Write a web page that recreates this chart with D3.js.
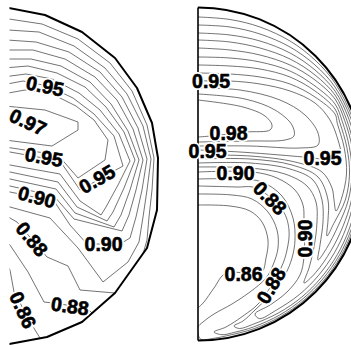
<!DOCTYPE html>
<html>
<head>
<meta charset="utf-8">
<script src="https://cdn.jsdelivr.net/npm/d3@7"></script>
<style>
  body { margin: 0; background: #fff; }
  svg { display: block; }
</style>
</head>
<body>
<svg width="351" height="345"></svg>
<script>
// ---- left section: coarse mesh, units of its radius, origin at centre, y down
const leftRadius = 169
const leftOutline = [[12,-169],[53,-161],[90,-144],[123,-118],[145,-88],[160,-53],[166,-18],[165,34],[155,72],[123,117],[90,146],[55,161],[12,169]]

const left097 = [[13,-70],[53,-66],[86,-54],[86,-46],[60,-30],[13,-36]]
const left096 = [[11,-82],[33,-86],[58,-83],[84,-70],[102,-56],[116,-36],[113,-16],[86,2],[66,-21],[13,-29]]
const left095 = [[10,-91],[31,-95],[56,-90],[81,-78],[102,-62],[122,-40],[131,-10],[88,14],[68,-15],[18,-24],[13,-25]]
const left094 = [[11,-99],[34,-102],[60,-97],[87,-83],[108,-66],[127,-42],[138,-15],[126,9],[114,31],[109,39],[88,25],[68,-2],[18,-11],[13,-12]]
const left093 = [[12,-108],[36,-110],[65,-103],[93,-89],[114,-69],[132,-44],[143,-16],[132,12],[121,36],[115,45],[85,31],[66,6],[18,-4],[13,-5]]
const left092 = [[13,-117],[39,-117],[69,-110],[98,-94],[119,-72],[136,-45],[147,-16],[138,14],[129,39],[122,51],[83,37],[64,13],[18,3],[13,2]]
const left091 = [[14,-126],[41,-126],[73,-117],[103,-99],[125,-76],[141,-47],[151,-16],[144,14],[137,39],[130,55],[82,43],[62,20],[18,10],[13,9]]
const left090 = [[15,-136],[44,-134],[77,-124],[108,-104],[130,-79],[146,-48],[155,-17],[150,14],[144,41],[138,62],[128,68],[95,68],[78,49],[62,25],[18,16],[13,15]]
const left089 = [[16,-146],[47,-144],[82,-130],[113,-108],[135,-82],[151,-50],[159,-17],[155,14],[151,41],[147,66],[136,86],[111,106],[86,72],[58,42],[18,31],[13,30]]
const left088a = [[17,-157],[50,-152],[86,-137],[118,-113],[140,-85],[155,-51],[162,-18],[160,14],[157,41],[155,64],[151,78]]
const left088b = [[13,38],[18,42],[25,46],[55,81],[76,90],[88,114],[123,117]]
const left087 = [[13,64],[18,69],[36,96],[52,126],[61,127],[95,132],[100,137]]
const left086 = [[13,86],[18,94],[22,116],[43,154],[48,162]]

// label text, x, y, rotation
const leftLabels = [
  ['0.95', 53, -90, 12], ['0.97', 36, -54, 25], ['0.95', 52, -19, 10],
  ['0.95', 105, 3, -30], ['0.90', 45, 21, 15], ['0.88', 40, 63, 50],
  ['0.90', 111.5, 68, 0], ['0.86', 31, 134, 65], ['0.88', 78, 130, 8]
]

// ---- right section: fine mesh, same kind of units
const rightRadius = 166.5
const right098 = [[0,-74],[45,-67],[67,-58],[74,-49],[72,-44],[48,-42],[13,-38],[0,-37]]
const right097 = [[0,-80],[47,-75],[77,-64],[94,-49],[96,-38],[87,-34],[52,-33],[0,-32]]
const right096 = [[0,-86],[42,-84],[82,-74],[107,-59],[120,-41],[120,-29],[102,-26],[52,-28],[0,-28]]
const right095 = [[0,-93],[32,-93],[62,-90],[92,-83],[117,-71],[132,-54],[140,-34],[143,-20],[141,-15],[106,-17],[82,-19],[42,-22],[0,-24]]
const right094 = [[0,-101],[32,-100],[62,-97],[92,-90],[117,-77],[137,-60],[139.3,-50.7],[146.3,-25.8],[148.5,0],[143.3,25.3],[138,37],[136,26],[134,14],[124,-2],[97,-12],[52,-18],[0,-19]]
const right093 = [[0,-109],[32,-108],[62,-105],[92,-97],[117,-83],[137,-65],[141.8,-51.6],[148.9,-26.3],[151.5,0],[147.3,26],[135.8,49.4],[129,62],[130,46],[130,26],[120,3],[94,-9],[52,-15],[0,-15]]
const right092 = [[0,-117],[32,-116],[62,-112],[92,-103],[117,-88],[137,-70],[144.3,-52.5],[151.4,-26.7],[154,0],[150.2,26.5],[140.5,51.1],[128.6,74.3],[120,86],[122,71],[125,48],[124,26],[115,6],[92,-5],[52,-11],[0,-11]]
const right091 = [[0,-126],[32,-124],[62,-119],[92,-109],[117,-94],[137,-75],[146.7,-53.4],[154,-27.2],[156.5,0],[153.2,27.1],[144.8,52.7],[132.9,76.8],[117.6,98.7],[106,109],[111,94],[116,73],[119,48],[118,28],[109,12],[87,0],[52,-6],[0,-7]]
const right090 = [[0,-134],[32,-132],[62,-126],[92,-115],[117,-99],[137,-79],[148.7,-54.1],[155.9,-27.5],[158.5,0],[155.6,27.5],[148.1,53.9],[136.4,78.8],[120.6,101.3],[101.3,120.6],[78.5,136],[61.4,144.6],[57,140],[72,131],[89,118],[102,101],[106,83],[106,46],[105,31],[97,16],[79,4],[55,-2],[0,-2]]
const right089 = [[0,-141],[32,-139],[62,-133],[92,-121],[117,-104],[137,-83],[150.9,-54.9],[158.1,-27.9],[160.5,0],[158.3,28],[151.2,55],[139.4,80.5],[123.3,103.5],[103.5,123.3],[80.3,139],[54.7,150.4],[41.4,154.5],[36,152],[45,147],[57,136],[74,119],[87,101],[94,84],[97,66],[95,44],[84,22],[64,8],[42,5],[0,5]]
const right088 = [[0,-149],[32,-147],[62,-140],[92,-127],[117,-109],[137,-87],[152.8,-55.6],[160.1,-28.3],[162.5,0],[160.3,28.3],[153.1,55.7],[141.2,81.5],[124.9,104.8],[104.8,124.9],[81.5,141.1],[55.6,152.9],[36.6,158.3],[24,160.7],[16,158],[28,153],[45,142],[61,129],[83,94],[89,76],[91,56],[85,37],[58,14],[38,13],[0,12]]
const right087 = [[0,-157],[32,-154.5],[62,-147],[92,-133],[117,-114],[137,-91],[154.4,-56.2],[161.7,-28.6],[164,0],[161.7,28.6],[154.6,56.3],[142.6,82.4],[126.2,105.9],[105.9,126.2],[82.4,142.6],[56.3,154.6],[28.6,161.8],[14,164.6],[3,165.5],[0,160],[0,153],[5,148],[16,140],[34,130],[52,118],[68,104],[75,91],[80,74],[79,56],[70,38],[54,25],[34,21],[0,20]]
const right086 = [[0,31],[32,32],[52,37],[64,48],[70,66],[68,84],[63,99],[28,99],[16,114],[6,128],[0,134]]

const rightLabels = [
  ['0.95', 13, -93, 0], ['0.98', 30.5, -41.5, 0], ['0.95', 9.5, -23.5, 0],
  ['0.95', 124.5, -16.5, 0], ['0.90', 37.5, -1.5, 0], ['0.88', 72, 24, 45],
  ['0.90', 106.5, 64.5, -90], ['0.86', 45.5, 99.5, 0], ['0.88', 73, 111.5, -60]
]

const leftContours = [left086, left087, left088a, left088b, left089, left090, left091, left092, left093, left094, left095, left096, left097]
const rightContours = [right086, right087, right088, right089, right090, right091, right092, right093, right094, right095, right096, right097, right098]

const svg = d3.select('svg')
const defs = svg.append('defs')

// scales
const lx = d3.scaleLinear().domain([0, leftRadius]).range([-8, 161])
const ly = d3.scaleLinear().domain([-leftRadius, leftRadius]).range([7, 345])
const rx = d3.scaleLinear().domain([0, rightRadius]).range([198, 364.5])
const ry = d3.scaleLinear().domain([-rightRadius, rightRadius]).range([7.5, 340.5])

const leftLine = d3.line().x(d => lx(d[0])).y(d => ly(d[1]))
const rightLine = d3.line().x(d => rx(d[0])).y(d => ry(d[1])).curve(d3.curveCatmullRom.alpha(0.5))

// clips
defs.append('clipPath').attr('id', 'leftCut')
  .append('rect').attr('x', 9.5).attr('y', 0).attr('width', 180).attr('height', 345)
defs.append('clipPath').attr('id', 'leftIn')
  .append('path').attr('d', leftLine(leftOutline) + 'Z')

const rcx = rx(0), rcy = ry(0), rR = rx(rightRadius) - rx(0)
const half = d3.path()
half.moveTo(rcx, rcy - rR)
half.arc(rcx, rcy, rR, -Math.PI / 2, Math.PI / 2)
half.closePath()
defs.append('clipPath').attr('id', 'rightIn')
  .append('path').attr('d', half.toString())

// left section
let gl = svg.append('g').attr('clip-path', 'url(#leftCut)')
gl.append('g').attr('clip-path', 'url(#leftIn)')
  .selectAll('path')
  .data(leftContours)
  .enter()
  .append('path')
  .attr('d', leftLine)
  .attr('fill', 'none')
  .attr('stroke', '#444')
  .attr('stroke-width', 0.75)
gl.append('path')
  .attr('d', leftLine(leftOutline))
  .attr('fill', 'none')
  .attr('stroke', '#000')
  .attr('stroke-width', 2)
  .attr('stroke-linejoin', 'round')

// right section
svg.append('g').attr('clip-path', 'url(#rightIn)')
  .selectAll('path')
  .data(rightContours)
  .enter()
  .append('path')
  .attr('d', rightLine)
  .attr('fill', 'none')
  .attr('stroke', '#444')
  .attr('stroke-width', 0.75)

const rim = d3.path()
rim.moveTo(rcx, rcy - rR)
rim.arc(rcx, rcy, rR, -Math.PI / 2, Math.PI / 2)
svg.append('path')
  .attr('d', rim.toString())
  .attr('fill', 'none')
  .attr('stroke', '#000')
  .attr('stroke-width', 2)
svg.append('line')
  .attr('x1', rcx).attr('x2', rcx)
  .attr('y1', ry(-rightRadius)).attr('y2', ry(rightRadius))
  .attr('stroke', '#000')
  .attr('stroke-width', 1.6)

// labels: white halo breaks the lines, then a slightly heavier black glyph
function drawLabels (list, sx, sy) {
  let g = svg.append('g')
    .style('font-family', '"Liberation Sans", Arial, sans-serif')
    .style('font-weight', 'bold')
    .style('font-size', '19.5px')
  g.selectAll('text.halo')
    .data(list)
    .enter()
    .append('text')
    .attr('class', 'halo')
    .attr('transform', d => 'translate(' + sx(d[1]) + ',' + sy(d[2]) + ') rotate(' + d[3] + ')')
    .attr('text-anchor', 'middle')
    .attr('dominant-baseline', 'central')
    .style('fill', '#fff')
    .style('stroke', '#fff')
    .style('stroke-width', 4)
    .text(d => d[0])
  g.selectAll('text.ink')
    .data(list)
    .enter()
    .append('text')
    .attr('class', 'ink')
    .attr('transform', d => 'translate(' + sx(d[1]) + ',' + sy(d[2]) + ') rotate(' + d[3] + ')')
    .attr('text-anchor', 'middle')
    .attr('dominant-baseline', 'central')
    .style('fill', '#000')
    .style('stroke', '#000')
    .style('stroke-width', 0.6)
    .text(d => d[0])
}
drawLabels(leftLabels, lx, ly)
drawLabels(rightLabels, rx, ry)
</script>
</body>
</html>
